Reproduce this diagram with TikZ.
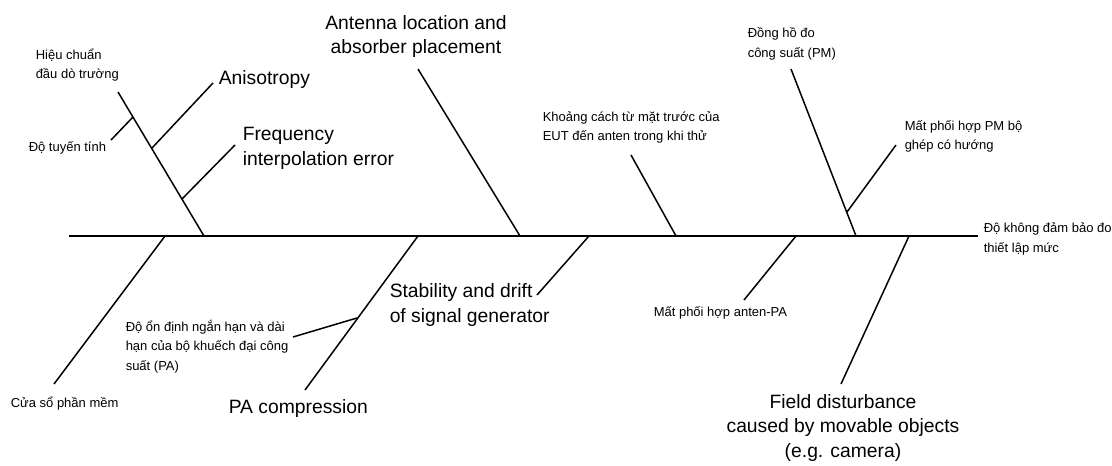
\documentclass[tikz,border=0pt]{standalone}
\usepackage{fontspec}
\setmainfont{Liberation Sans}
\begin{document}
\begin{tikzpicture}[x=1pt, y=-1pt, line width=1.5pt, small/.style={font=\fontsize{13}{19.5}\selectfont, align=left, anchor=west}, big/.style={font=\fontsize{19.3}{24.5}\selectfont, align=left, anchor=west}]
	\tikzstyle{every node}=[inner sep=0pt]
	\useasboundingbox (0,0) rectangle (1112,466);

	% spine
	\coordinate (Tail) at (69,236);
	\coordinate (Head) at (978,236);
	\node (Effect) [small] at (983,239) {Độ không đảm bảo đo\\thiết lập mức};
	\draw (Tail) -- (Head);

	% upper bones
	\coordinate (Probe0) at (204,236);
	\coordinate (Probe1) at (118,92);
	\coordinate (Lin0) at (133,117);
	\coordinate (Lin1) at (111,140);
	\coordinate (Aniso0) at (152,148);
	\coordinate (Aniso1) at (213,83);
	\coordinate (Freq0) at (182,199);
	\coordinate (Freq1) at (235,145);
	\node (ProbeTxt) [small] at (35,65) {Hiệu chuẩn\\đầu dò trường};
	\node (LinTxt) [small] at (28,148) {Độ tuyến tính};
	\node (AnisoTxt) [big] at (218,80) {Anisotropy};
	\node (FreqTxt) [big] at (242,148.5) {Frequency\\interpolation error};
	\draw (Probe0) -- (Probe1);
	\draw (Lin0) -- (Lin1);
	\draw (Aniso0) -- (Aniso1);
	\draw (Freq0) -- (Freq1);

	\coordinate (Ant0) at (520,236);
	\coordinate (Ant1) at (418,69);
	\node (AntTxt) [big, align=center, anchor=center] at (416,36.5) {Antenna location and\\absorber placement};
	\draw (Ant0) -- (Ant1);

	\coordinate (Dist0) at (676,236);
	\coordinate (Dist1) at (631,155);
	\node (DistTxt) [small] at (542,127.5) {Khoảng cách từ mặt trước của\\EUT đến anten trong khi thử};
	\draw (Dist0) -- (Dist1);

	\coordinate (PM0) at (856,236);
	\coordinate (PM1) at (791,69);
	\coordinate (PMmis0) at (847,212);
	\coordinate (PMmis1) at (896,145);
	\node (PMTxt) [small] at (747,44) {Đồng hồ đo\\công suất (PM)};
	\node (PMmisTxt) [small] at (904,136.5) {Mất phối hợp PM bộ\\ghép có hướng};
	\draw (PM0) -- (PM1);
	\draw (PMmis0) -- (PMmis1);

	% lower bones
	\coordinate (Soft0) at (165,236);
	\coordinate (Soft1) at (54,384);
	\node (SoftTxt) [small] at (10,404) {Cửa sổ phần mềm};
	\draw (Soft0) -- (Soft1);

	\coordinate (PA0) at (418,236);
	\coordinate (PA1) at (305,390);
	\coordinate (PAst0) at (357,318);
	\coordinate (PAst1) at (293,337);
	\node (PAstTxt) [small] at (125,346.5) {Độ ổn định ngắn hạn và dài\\hạn của bộ khuếch đại công\\suất (PA)};
	\node (PATxt) [big] at (228,409) {PA compression};
	\draw (PA0) -- (PA1);
	\draw (PAst0) -- (PAst1);

	\coordinate (Gen0) at (589,236);
	\coordinate (Gen1) at (537,295);
	\node (GenTxt) [big] at (389,305) {Stability and drift\\of signal generator};
	\draw (Gen0) -- (Gen1);

	\coordinate (Mis0) at (796,236);
	\coordinate (Mis1) at (744,300);
	\node (MisTxt) [small] at (653,313) {Mất phối hợp anten-PA};
	\draw (Mis0) -- (Mis1);

	\coordinate (Field0) at (909,236);
	\coordinate (Field1) at (841,384);
	\node (FieldTxt) [big, align=center, anchor=center] at (843,428) {Field disturbance\\caused by movable objects\\(e.g. camera)};
	\draw (Field0) -- (Field1);
\end{tikzpicture}
\end{document}
